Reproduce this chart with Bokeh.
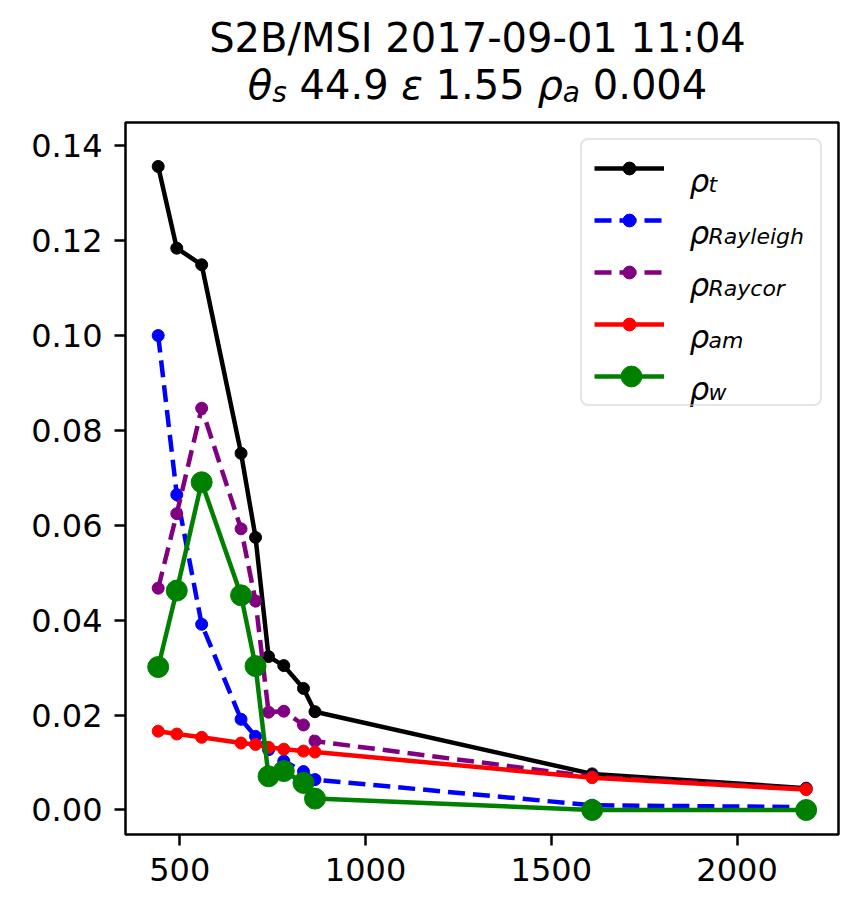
from bokeh.plotting import figure
from bokeh.models import (ColumnDataSource, Legend, LegendItem, Label, FixedTicker,
                          NumeralTickFormatter, Range1d, Div)
from bokeh.layouts import column
from bokeh.embed import file_html
from bokeh.resources import INLINE

# ---------------- data ----------------
bands = [442, 492, 559, 665, 704, 739, 780, 833, 864, 1610, 2186]
rho_t = [0.1355, 0.1183, 0.1148, 0.0751, 0.0574, 0.0323, 0.0304, 0.0256, 0.0207, 0.0076, 0.0046]
rho_rayleigh = [0.0999, 0.0664, 0.0391, 0.0191, 0.0155, 0.0127, 0.0103, 0.0081, 0.0064, 0.0010, 0.0006]
rho_raycor = [0.0467, 0.0624, 0.0846, 0.0592, 0.0440, 0.0206, 0.0208, 0.0179, 0.0145, 0.0070, 0.0044]
rho_am = [0.0166, 0.0160, 0.0153, 0.0141, 0.0138, 0.0132, 0.0128, 0.0124, 0.0122, 0.0068, 0.0043]
rho_w = [0.0301, 0.0462, 0.0690, 0.0452, 0.0303, 0.0071, 0.0082, 0.0057, 0.0024, 0.0000, 0.0000]

x_ticks = [500, 1000, 1500, 2000]
y_ticks = [0.00, 0.02, 0.04, 0.06, 0.08, 0.10, 0.12, 0.14]

title_line1 = "S2B/MSI 2017-09-01 11:04"
# (text, is_subscript, italic)
title_line2 = [("θ", False, True), ("s", True, True), (" 44.9 ", False, False),
               ("ε", False, True), (" 1.55 ", False, False),
               ("ρ", False, True), ("a", True, True), (" 0.004", False, False)]
legend_subs = ["t", "Rayleigh", "Raycor", "am", "w"]

# ---------------- layout ----------------
X0, X1 = 354.0, 2273.0
Y0, Y1 = -0.00516, 0.14476
FONT = "DejaVu Sans"

DIV_H = 110
BL, BR, BT, BB = 125, 16, 122 - DIV_H, 68
FW, FH = 713, 712
W, H = BL + FW + BR, BT + FH + BB
FRAME_TOP_PAGE = 122


def dx(px):  # page pixel -> data x
    return X0 + (px - BL) / FW * (X1 - X0)


def dy(py):  # page pixel -> data y
    return Y1 - (py - FRAME_TOP_PAGE) / FH * (Y1 - Y0)


p = figure(width=W, height=H, output_backend="svg", toolbar_location=None,
           x_range=Range1d(X0, X1), y_range=Range1d(Y0, Y1),
           min_border_left=BL, min_border_right=BR, min_border_top=BT, min_border_bottom=BB,
           title=None)
p.xgrid.visible = False
p.ygrid.visible = False
p.outline_line_color = "black"
p.outline_line_width = 2.5
p.background_fill_color = "white"
p.border_fill_color = "white"

p.xaxis.ticker = FixedTicker(ticks=x_ticks)
p.yaxis.ticker = FixedTicker(ticks=y_ticks)
p.yaxis.formatter = NumeralTickFormatter(format="0.00")
for ax in (p.xaxis, p.yaxis):
    ax.axis_line_color = None
    ax.major_tick_in = 0
    ax.major_tick_out = 11
    ax.major_tick_line_width = 2.5
    ax.major_tick_line_color = "black"
    ax.minor_tick_line_color = None
    ax.major_label_text_font = FONT
    ax.major_label_text_font_size = "32px"
    ax.major_label_text_color = "black"
p.yaxis.major_label_standoff = 12
p.xaxis.major_label_standoff = 12

src = ColumnDataSource(dict(x=bands, t=rho_t, ray=rho_rayleigh, rc=rho_raycor,
                            am=rho_am, w=rho_w))

series = [
    ("t", "black", "solid", 12),
    ("ray", "blue", "17 8", 12),
    ("rc", "purple", "17 8", 12),
    ("am", "red", "solid", 12),
    ("w", "green", "solid", 21),
]
items = []
big_marker = None
for (col, color, dash, msize), sub in zip(series, legend_subs):
    lr = p.line("x", col, source=src, line_color=color, line_width=4.5, line_dash=dash)
    sr = p.scatter("x", col, source=src, size=msize, fill_color=color, line_color=color)
    if msize > 12:
        big_marker = sr
        items.append(LegendItem(label=" ", renderers=[lr]))
    else:
        items.append(LegendItem(label=" ", renderers=[lr, sr]))

legend = Legend(items=items, location="top_right", margin=16, padding=12, spacing=20,
                glyph_width=70, glyph_height=32, label_height=32, label_width=118,
                label_standoff=26, label_text_font_size="10px",
                border_line_color="#cccccc", border_line_width=2.5, border_radius=8,
                background_fill_color=None)
p.add_layout(legend)

# larger legend marker for the water-reflectance entry (second, frameless legend)
LEG_W = 2 * 12 + 70 + 26 + 118
glyph_left = 838 - 16 - LEG_W + 12          # page x of glyph area
row5_center = 376                            # page y of 5th legend row
legend2 = Legend(items=[LegendItem(label=" ", renderers=[big_marker])],
                 location=(glyph_left - BL, (FRAME_TOP_PAGE + FH) - (row5_center + 26)),
                 margin=0, padding=0, spacing=0, glyph_width=70, glyph_height=52,
                 label_height=52, label_width=0, label_standoff=0,
                 label_text_font_size="1px", border_line_color=None,
                 background_fill_color=None)
p.add_layout(legend2)

# legend texts (rho + subscript)
row0 = FRAME_TOP_PAGE + 16 + 12 + 16
for i, sub in enumerate(legend_subs):
    cy = row0 + i * 52
    p.add_layout(Label(x=dx(689), y=dy(cy + 14), text="ρ", text_font=FONT,
                       text_font_style="italic", text_font_size="31px", level="overlay",
                       text_baseline="alphabetic", text_align="left", text_color="black"))
    p.add_layout(Label(x=dx(708), y=dy(cy + 18), text=sub, text_font=FONT,
                       text_font_style="italic", text_font_size="22px", level="overlay",
                       text_baseline="alphabetic", text_align="left", text_color="black"))

# title (two lines, with italic symbols and subscripts)
parts = []
for txt, is_sub, ital in title_line2:
    style = "font-style:italic;" if ital else ""
    if is_sub:
        style += "font-size:28px;position:relative;top:3px;"
    parts.append('<span style="%s">%s</span>' % (style, txt.replace(" ", "&nbsp;")))
line_style = ("display:block;height:47px;line-height:47px;text-align:center;"
              "white-space:nowrap;width:%dpx;" % FW)
title_html = ('<div style="font-family:\'DejaVu Sans\';font-size:40px;color:black;'
              'padding-top:15px;">'
              '<div style="%s">%s</div><div style="%s">%s</div></div>'
              % (line_style, title_line1, line_style, "".join(parts)))
title_div = Div(text=title_html, width=FW, height=DIV_H, margin=(0, 0, 0, BL - 4))

layout = column(title_div, p, spacing=0)
open("out.html", "w").write(file_html(layout, INLINE))
